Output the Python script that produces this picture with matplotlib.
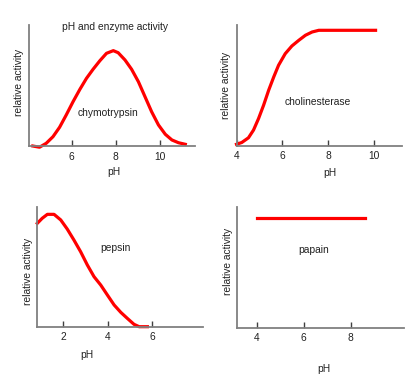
import matplotlib
matplotlib.use("Agg")
import matplotlib.pyplot as plt

plt.rcParams['font.family'] = ['Liberation Sans', 'DejaVu Sans']

# chymotrypsin
chymo_ph = [4.23, 4.54, 4.84, 5.15, 5.45, 5.75, 6.06, 6.37, 6.67, 6.97, 7.28, 7.58, 7.89,
            8.11, 8.42, 8.72, 9.03, 9.33, 9.63, 9.94, 10.25, 10.55, 10.85, 11.16]
chymo_act = [0.0, -0.01, 0.022, 0.077, 0.155, 0.256, 0.366, 0.468, 0.559, 0.634, 0.705, 0.766, 0.788,
             0.771, 0.711, 0.634, 0.531, 0.407, 0.283, 0.174, 0.097, 0.05, 0.027, 0.014]

# cholinesterase
chol_ph = [4.0, 4.23, 4.52, 4.74, 4.96, 5.18, 5.40, 5.62, 5.83, 6.12, 6.41, 6.71, 7.0, 7.29, 7.58, 10.05]
chol_act = [0.01, 0.025, 0.064, 0.128, 0.224, 0.335, 0.459, 0.569, 0.666, 0.762, 0.826, 0.873,
            0.915, 0.942, 0.956, 0.956]

# pepsin
pep_ph = [0.85, 1.07, 1.30, 1.60, 1.90, 2.19, 2.49, 2.79, 3.09, 3.39, 3.69, 3.99, 4.29, 4.59,
          4.88, 5.18, 5.41, 5.78]
pep_act = [0.866, 0.908, 0.941, 0.941, 0.894, 0.818, 0.726, 0.628, 0.517, 0.419, 0.349, 0.265,
           0.182, 0.12, 0.07, 0.02, 0.0, 0.0]

# papain
pap_ph = [4.0, 8.61]
pap_act = [0.914, 0.914]

W, H = 417, 376
fig = plt.figure(figsize=(W / 100, H / 100), dpi=100)
fig.patch.set_facecolor('white')

FS = 7.4
TXT = '#222222'


def make_ax(box, xlim, xticks, ylab_px, xlab_px):
    left, right, top, bottom = box
    ax = fig.add_axes([left / W, 1 - bottom / H, (right - left) / W, (bottom - top) / H])
    for s in ['top', 'right']:
        ax.spines[s].set_visible(False)
    for s in ['left', 'bottom']:
        ax.spines[s].set_color('#808080')
        ax.spines[s].set_linewidth(1.3)
    ax.set_yticks([])
    ax.set_ylim(0, 1)
    ax.set_xlim(*xlim)
    ax.set_xticks(xticks)
    ax.tick_params(axis='x', direction='in', length=4, width=1, color='#404040',
                   labelsize=FS, labelcolor=TXT, pad=4)

    def frac(px, py):
        return (px - left) / (right - left), (bottom - py) / (bottom - top)

    ax.set_ylabel('relative activity', fontsize=FS, color=TXT)
    ax.yaxis.set_label_coords(*frac(*ylab_px))
    ax.yaxis.label.set_va('center')
    ax.set_xlabel('pH', fontsize=FS, color=TXT)
    ax.xaxis.set_label_coords(*frac(*xlab_px))
    ax.xaxis.label.set_va('center')
    return ax, frac


lw = 2.3

ax1, f1 = make_ax((29, 195, 25, 146), (4.06, 11.6), [6, 8, 10], (19, 82), (114, 172))
ax1.plot(chymo_ph, chymo_act, color='red', lw=lw, clip_on=False)
ax1.text(*f1(114.5, 26.7), 'pH and enzyme activity', transform=ax1.transAxes,
         fontsize=FS, color=TXT, ha='center', va='center')
ax1.text(*f1(108, 113), 'chymotrypsin', transform=ax1.transAxes,
         fontsize=FS, color=TXT, ha='center', va='center')

ax2, f2 = make_ax((236.5, 402, 25, 145.5), (4.0, 11.2), [4, 6, 8, 10], (225.7, 85), (330, 173))
ax2.plot(chol_ph, chol_act, color='red', lw=lw, clip_on=False)
ax2.text(*f2(317.7, 101.7), 'cholinesterase', transform=ax2.transAxes,
         fontsize=FS, color=TXT, ha='center', va='center')

ax3, f3 = make_ax((37.3, 203, 207.3, 326.7), (0.85, 8.27), [2, 4, 6], (28.3, 271.7), (87.3, 355))
ax3.plot(pep_ph, pep_act, color='red', lw=lw, clip_on=False)
ax3.text(*f3(115, 248.3), 'pepsin', transform=ax3.transAxes,
         fontsize=FS, color=TXT, ha='center', va='center')

ax4, f4 = make_ax((237.3, 404.3, 207.3, 327.7), (3.17, 10.28), [4, 6, 8], (227.7, 261.7), (324.3, 369))
ax4.plot(pap_ph, pap_act, color='red', lw=lw, clip_on=False)
ax4.text(*f4(313.3, 250), 'papain', transform=ax4.transAxes,
         fontsize=FS, color=TXT, ha='center', va='center')

fig.savefig('out.png', dpi=100)
